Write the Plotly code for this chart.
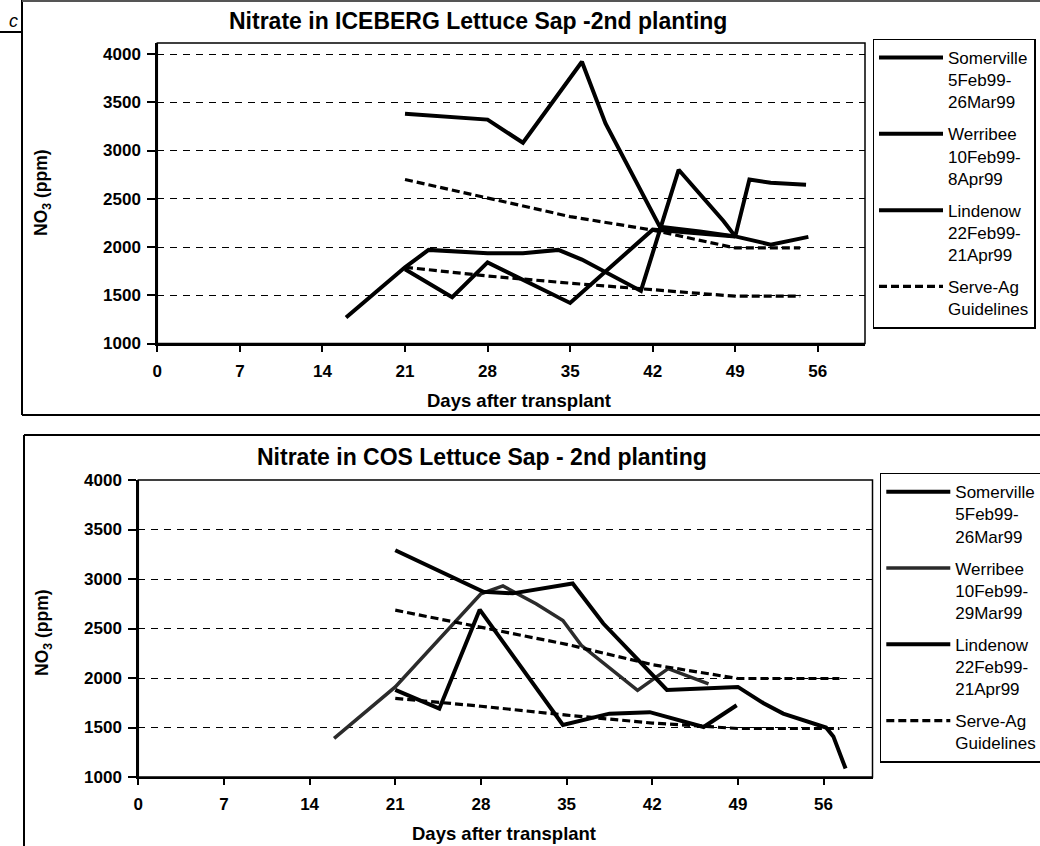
import plotly.graph_objects as go

W, H = 1040, 846
FONT = "Liberation Sans, Arial, sans-serif"

# ---------------- ICEBERG lettuce, 2nd planting ----------------
ice_somerville_days = [21, 25, 28, 35, 42, 46, 49]
ice_somerville_no3 = [1770, 1480, 1840, 1420, 2180, 2145, 2110]

ice_werribee_days = [16, 21, 23, 28, 31, 34, 36, 41, 44.2, 48, 49, 50.2, 52, 55]
ice_werribee_no3 = [1270, 1790, 1970, 1935, 1935, 1970, 1870, 1545, 2800, 2270, 2110, 2700, 2665, 2645]

ice_lindenow_days = [21, 24, 28, 31, 36, 38, 42.6, 46, 49, 52, 55.2]
ice_lindenow_no3 = [3380, 3355, 3320, 3080, 3920, 3280, 2210, 2160, 2110, 2025, 2105]

ice_guide_days = [21, 28, 35, 42, 49, 54.5]
ice_guide_upper = [2700, 2505, 2315, 2175, 1990, 1990]
ice_guide_lower = [1790, 1700, 1625, 1560, 1490, 1490]

# ---------------- COS lettuce, 2nd planting ----------------
cos_somerville_days = [21, 24.6, 27.9, 34.7, 38.5, 41.8, 46.2, 48.9]
cos_somerville_no3 = [1880, 1690, 2690, 1525, 1640, 1655, 1505, 1725]

cos_werribee_days = [16, 21, 28, 29.8, 32.5, 34.7, 36.2, 40.8, 43.3, 46.6]
cos_werribee_no3 = [1390, 1910, 2850, 2930, 2750, 2580, 2330, 1875, 2095, 1940]

cos_lindenow_days = [21, 28.2, 30.6, 35.5, 38, 43.2, 49, 51.1, 52.7, 56.2, 56.8, 57.8]
cos_lindenow_no3 = [3290, 2870, 2855, 2955, 2550, 1880, 1910, 1745, 1640, 1500, 1410, 1085]

cos_guide_days = [21, 28, 35, 42, 49, 57.3]
cos_guide_upper = [2685, 2510, 2340, 2135, 1995, 1995]
cos_guide_lower = [1795, 1715, 1625, 1545, 1490, 1490]

# ---------------- labels ----------------
ice_names = ["Somerville<br>5Feb99-<br>26Mar99",
             "Werribee<br>10Feb99-<br>8Apr99",
             "Lindenow<br>22Feb99-<br>21Apr99",
             "Serve-Ag<br>Guidelines"]
cos_names = ["Somerville<br>5Feb99-<br>26Mar99",
             "Werribee<br>10Feb99-<br>29Mar99",
             "Lindenow<br>22Feb99-<br>21Apr99",
             "Serve-Ag<br>Guidelines"]
ice_title = "Nitrate in ICEBERG Lettuce Sap -2nd planting"
cos_title = "Nitrate in COS Lettuce Sap - 2nd planting"
x_title = "Days after transplant"
y_title = "NO<sub>3</sub> (ppm)"

day_ticks = [0, 7, 14, 21, 28, 35, 42, 49, 56]
no3_ticks = [1000, 1500, 2000, 2500, 3000, 3500, 4000]

fig = go.Figure()


def add_line(days, vals, name, xa, ya, leg, group, color="black", width=4, dash="solid"):
    fig.add_trace(go.Scatter(
        x=days, y=vals, name=name, mode="lines",
        line=dict(color=color, width=width, dash=dash),
        xaxis=xa, yaxis=ya, legend=leg, legendgroup=group,
        hoverinfo="skip"))


def join(a, b):
    return a + [None] + b


# top chart
add_line(ice_somerville_days, ice_somerville_no3, ice_names[0], "x", "y", "legend", "is")
add_line(ice_werribee_days, ice_werribee_no3, ice_names[1], "x", "y", "legend", "iw")
add_line(ice_lindenow_days, ice_lindenow_no3, ice_names[2], "x", "y", "legend", "il")
add_line(join(ice_guide_days, ice_guide_days), join(ice_guide_upper, ice_guide_lower),
         ice_names[3], "x", "y", "legend", "ig", width=3.2, dash="8px,4px")

# bottom chart
add_line(cos_somerville_days, cos_somerville_no3, cos_names[0], "x2", "y2", "legend2", "cs")
add_line(cos_werribee_days, cos_werribee_no3, cos_names[1], "x2", "y2", "legend2", "cw",
         color="#2b2b2b", width=3.5)
add_line(cos_lindenow_days, cos_lindenow_no3, cos_names[2], "x2", "y2", "legend2", "cl")
add_line(join(cos_guide_days, cos_guide_days), join(cos_guide_upper, cos_guide_lower),
         cos_names[3], "x2", "y2", "legend2", "cg", width=3.2, dash="8px,4px")


def px_x(p):
    return p / W


def px_y(p):
    return 1 - p / H


tick_font = dict(family=FONT, size=17, color="black", weight="bold")

xaxis_common = dict(
    range=[0, 60], tickvals=day_ticks, ticks="outside", ticklen=6, tickwidth=1.5,
    tickcolor="black", showline=True, linecolor="black", linewidth=2,
    showgrid=False, zeroline=False, tickfont=tick_font, ticklabelstandoff=5,
    fixedrange=True)
yaxis_common = dict(
    tickvals=no3_ticks, ticks="outside", ticklen=8, tickwidth=1.5, tickcolor="black",
    showline=True, linecolor="black", linewidth=2, showgrid=True, gridcolor="black",
    gridwidth=1, griddash="7px,6px", zeroline=False, tickfont=tick_font,
    ticklabelstandoff=3, fixedrange=True)

legend_common = dict(
    xanchor="left", yanchor="top", bgcolor="white", bordercolor="black", borderwidth=1.5,
    font=dict(family=FONT, size=17, color="black"), valign="top", itemwidth=64,
    traceorder="grouped", tracegroupgap=7)

fig.update_layout(
    width=W, height=H,
    margin=dict(l=0, r=0, t=0, b=0, autoexpand=False),
    paper_bgcolor="white", plot_bgcolor="white",
    xaxis=dict(domain=[px_x(157.3), px_x(865)], anchor="y", **xaxis_common),
    yaxis=dict(domain=[px_y(343.5), px_y(43)], anchor="x", range=[1000, 4114], **yaxis_common),
    xaxis2=dict(domain=[px_x(138.3), px_x(872.5)], anchor="y2", **xaxis_common),
    yaxis2=dict(domain=[px_y(777), px_y(480)], anchor="x2", range=[1000, 4000], **yaxis_common),
    legend=dict(x=px_x(872.5), y=px_y(38.5), **legend_common),
    legend2=dict(x=px_x(879.8), y=px_y(472.7), **legend_common),
    showlegend=True,
)

title_font = dict(family=FONT, size=23, color="black", weight="bold")
axis_title_font = dict(family=FONT, size=18.5, color="black", weight="bold")
y_title_font = dict(family=FONT, size=17.5, color="black", weight="bold")

annotations = [
    dict(text=ice_title, x=px_x(478), y=px_y(21), font=title_font),
    dict(text=cos_title, x=px_x(482), y=px_y(457), font=title_font),
    dict(text=x_title, x=px_x(519), y=px_y(400), font=axis_title_font),
    dict(text=x_title, x=px_x(504), y=px_y(833), font=axis_title_font),
    dict(text=y_title, x=px_x(42.5), y=px_y(192.5), textangle=-90, font=y_title_font),
    dict(text=y_title, x=px_x(43), y=px_y(633), textangle=-90, font=y_title_font),
    dict(text="<i>c</i>", x=px_x(13), y=px_y(21),
         font=dict(family=FONT, size=18, color="black")),
]
for a in annotations:
    a.update(xref="paper", yref="paper", showarrow=False, xanchor="center", yanchor="middle")
fig.update_layout(annotations=annotations)


def seg(x0, y0, x1, y1, width=2, color="black"):
    return dict(type="line", xref="paper", yref="paper",
                x0=px_x(x0), y0=px_y(y0), x1=px_x(x1), y1=px_y(y1),
                line=dict(color=color, width=width))


shapes = [
    # plot-area borders
    dict(type="rect", xref="x domain", yref="y domain", x0=0, y0=0, x1=1, y1=1,
         line=dict(color="black", width=1.5), layer="above"),
    dict(type="rect", xref="x2 domain", yref="y2 domain", x0=0, y0=0, x1=1, y1=1,
         line=dict(color="black", width=1.5), layer="above"),
    # outer frame of the ICEBERG panel
    seg(22, 0, 22, 415),
    seg(22, 415, W, 415),
    seg(22, 1, W, 1, width=2, color="#555555"),
    seg(0, 32, 22, 32),
    # outer frame of the COS panel
    seg(24, 435, W, 435),
    seg(24, 435, 24, H),
]
fig.update_layout(shapes=shapes)

fig.write_html("out.html")
